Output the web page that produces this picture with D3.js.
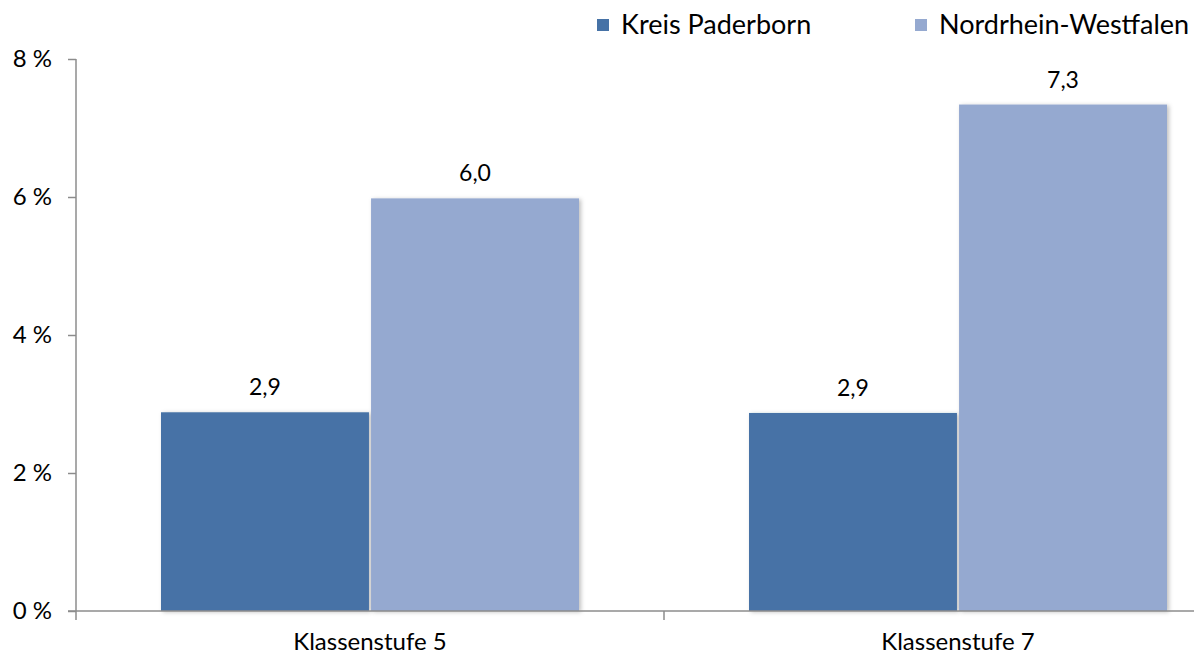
<!DOCTYPE html>
<html>
<head>
<meta charset="utf-8">
<script src="https://cdn.jsdelivr.net/npm/d3@7"></script>
<style>
  body { margin: 0; background: #fff; }
  svg { display: block; font-family: Lato, "Open Sans", sans-serif; }
</style>
</head>
<body>
<svg id="chart" width="1194" height="657"></svg>
<script>
// data
const categories = ['Klassenstufe 5', 'Klassenstufe 7'];
const seriesNames = ['Kreis Paderborn', 'Nordrhein-Westfalen'];
const kreisValues = [2.88, 2.87];
const nrwValues = [5.98, 7.34];
const yTicks = [0, 2, 4, 6, 8];
const colors = ['#4672A6', '#95A9D0'];

const svg = d3.select('#chart');

// plot area: left axis at 76, bands continue past the right edge (cropped chart)
const x0 = d3.scaleBand()
    .domain(categories)
    .range([76, 1252])
    .paddingInner(0)
    .paddingOuter(0);

const y = d3.scaleLinear().domain([0, 8]).range([611, 59]);

const x1 = d3.scaleBand()
    .domain(seriesNames)
    .range([85, 503])
    .paddingInner(0.01);

// shadow filter
const defs = svg.append('defs');
const filt = defs.append('filter').attr('id', 'shadow')
    .attr('x', '-5%').attr('y', '-5%').attr('width', '115%').attr('height', '115%');
filt.append('feDropShadow')
    .attr('dx', 2).attr('dy', 1).attr('stdDeviation', 2)
    .attr('flood-color', '#000').attr('flood-opacity', 0.25);

const rows = categories.map((c, i) => ({ cat: c, vals: [kreisValues[i], nrwValues[i]] }));

// bars
const groups = svg.append('g').selectAll('g')
    .data(rows)
    .enter()
    .append('g')
    .attr('transform', d => 'translate(' + x0(d.cat) + ',0)');

groups.selectAll('rect')
    .data(d => d.vals.map((v, j) => ({ name: seriesNames[j], v: v, j: j })))
    .enter()
    .append('rect')
    .attr('x', d => x1(d.name))
    .attr('y', d => y(d.v))
    .attr('width', x1.bandwidth())
    .attr('height', d => y(0) - y(d.v))
    .attr('fill', d => colors[d.j])
    .attr('filter', 'url(#shadow)');

// value labels
groups.selectAll('text')
    .data(d => d.vals.map((v, j) => ({ name: seriesNames[j], v: v })))
    .enter()
    .append('text')
    .attr('x', d => x1(d.name) + x1.bandwidth() / 2)
    .attr('y', d => y(d.v) - 17)
    .attr('text-anchor', 'middle')
    .attr('font-size', 23)
    .attr('fill', '#000')
    .text(d => d3.format('.1f')(d.v).replace('.', ','));

// y axis
const yAxis = d3.axisLeft(y)
    .tickValues(yTicks)
    .tickSize(8)
    .tickPadding(16)
    .tickFormat(d => d + ' %');
const gy = svg.append('g').attr('transform', 'translate(76,0)').call(yAxis);
gy.select('.domain').attr('stroke', '#8c8c8c').attr('stroke-width', 1.5)
    .attr('d', 'M0,59V620');
gy.selectAll('.tick line').attr('stroke', '#8c8c8c').attr('stroke-width', 1.5);
gy.selectAll('.tick text').attr('font-size', 24).attr('fill', '#000')
    .attr('font-family', 'Lato, "Open Sans", sans-serif');

// x axis
const xAxis = d3.axisBottom(x0).tickSize(0).tickPadding(22);
const gx = svg.append('g').attr('transform', 'translate(0,611)').call(xAxis);
gx.select('.domain').attr('stroke', '#8c8c8c').attr('stroke-width', 1.5)
    .attr('d', 'M68,0H1194');
gx.selectAll('.tick text').attr('font-size', 24).attr('fill', '#000')
    .attr('font-family', 'Lato, "Open Sans", sans-serif');
// category boundary ticks
gx.selectAll('.bound')
    .data(categories.slice(1))
    .enter()
    .append('line')
    .attr('x1', d => x0(d)).attr('x2', d => x0(d))
    .attr('y1', 0).attr('y2', 9)
    .attr('stroke', '#8c8c8c').attr('stroke-width', 1.5);

// legend
const legendX = [597, 915];
const legend = svg.append('g').selectAll('g')
    .data(seriesNames)
    .enter()
    .append('g')
    .attr('transform', (d, i) => 'translate(' + legendX[i] + ',19)');
legend.append('rect')
    .attr('width', 12).attr('height', 12)
    .attr('fill', (d, i) => colors[i]);
legend.append('text')
    .attr('x', 24).attr('y', 6)
    .attr('dy', '0.35em')
    .attr('font-size', 27)
    .attr('fill', '#000')
    .text(d => d);
</script>
</body>
</html>
